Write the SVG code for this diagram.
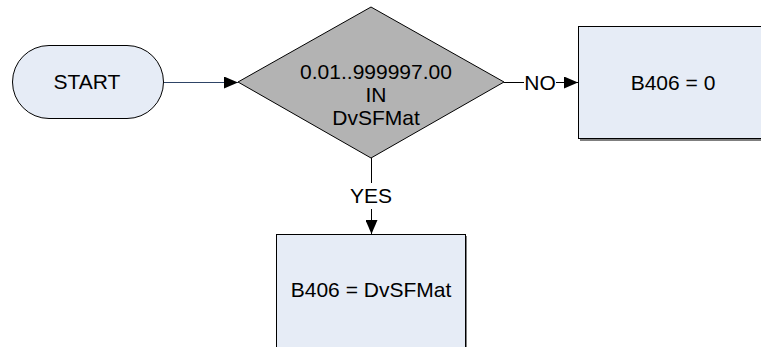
<svg xmlns="http://www.w3.org/2000/svg" width="761" height="347" viewBox="0 0 761 347">
<style>
text{font-family:"Liberation Sans",Arial,sans-serif;font-size:21px;fill:#000;text-anchor:middle}
.box{fill:#E6ECF6;stroke:#000;stroke-width:1}
.shadow{fill:#7F7F7F}
.line{fill:none;stroke:#000;stroke-width:1}
</style>
<defs>
<marker id="arr" markerWidth="14" markerHeight="12" refX="14" refY="6" orient="auto" markerUnits="userSpaceOnUse">
<path d="M0,0 L14,6 L0,12 Z" fill="#000"/>
</marker>
</defs>
<rect width="761" height="347" fill="#fff"/>
<g id="start">
<rect x="12.5" y="45.5" width="151" height="73" rx="36.5" ry="36.5" class="box"/>
<text x="87" y="89">START</text>
</g>
<g id="decision">
<polygon points="238,82 371,7 504,82 371,158" fill="#B3B3B3" stroke="#000" stroke-width="1"/>
<text x="376" y="79">0.01..999997.00</text>
<text x="376" y="102">IN</text>
<text x="376" y="125">DvSFMat</text>
</g>
<g id="no-box">
<rect x="580" y="28" width="190" height="113" class="shadow"/>
<rect x="578.5" y="26.5" width="190" height="112" class="box"/>
<text x="673" y="90">B406 = 0</text>
</g>
<g id="yes-box">
<rect x="278" y="236" width="189" height="130" class="shadow"/>
<rect x="276.5" y="234.5" width="189" height="130" class="box"/>
<text x="371" y="297">B406 = DvSFMat</text>
</g>
<g id="connectors">
<line x1="164" y1="82.5" x2="238" y2="82.5" stroke="#2E4466" stroke-width="1.2" marker-end="url(#arr)"/>
<line x1="504" y1="82.5" x2="524" y2="82.5" class="line"/>
<text x="540" y="90">NO</text>
<line x1="556" y1="82.5" x2="578" y2="82.5" class="line" marker-end="url(#arr)"/>
<line x1="371.5" y1="158" x2="371.5" y2="183" class="line"/>
<text x="371" y="203">YES</text>
<line x1="371.5" y1="209" x2="371.5" y2="234" class="line" marker-end="url(#arr)"/>
</g>
</svg>
